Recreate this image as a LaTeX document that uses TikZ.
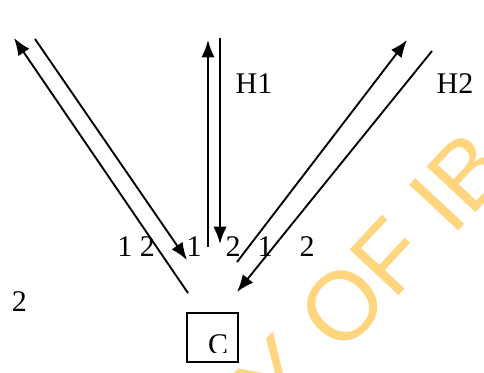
\documentclass[tikz,border=0pt]{standalone}
\usepackage{fontspec}
\setmainfont{Liberation Serif}
\newfontfamily\markfont{Liberation Sans}
\usetikzlibrary{arrows.meta}
\usepackage{xcolor}
\definecolor{markorange}{RGB}{255,213,128}

\begin{document}
\begin{tikzpicture}[
  x=0.75pt, y=-0.75pt,
  font=\fontsize{22.5}{27}\selectfont,
  lbl/.style={inner sep=0pt},
  box/.style={draw, line width=1.1pt, minimum width=38.25pt, minimum height=36.75pt, inner sep=0pt},
  arrow/.style={-{Latex[length=13pt, width=10pt]}, line width=1.4pt}
]
\useasboundingbox (0,0) rectangle (484,372);

% watermark
\begin{scope}
  \clip (0,0) rectangle (484,372);
  \node[anchor=base west, rotate=47, inner sep=0pt, text=markorange,
        font=\markfont\fontsize{73}{80}\selectfont] (mark) at (279,424) {Y OF IB};
\end{scope}

% end points of the paths
\coordinate (lup-s) at (188,293);
\coordinate (lup-e) at (14,38);
\coordinate (ldn-s) at (35,39);
\coordinate (ldn-e) at (187,260);
\coordinate (vup-s) at (208,247);
\coordinate (vup-e) at (208,40);
\coordinate (vdn-s) at (220,38);
\coordinate (vdn-e) at (220,244);
\coordinate (rup-s) at (237,262);
\coordinate (rup-e) at (407,40);
\coordinate (rdn-s) at (432,51);
\coordinate (rdn-e) at (237,292);

\draw[arrow] (lup-s) -- (lup-e);
\draw[arrow] (ldn-s) -- (ldn-e);
\draw[arrow] (vup-s) -- (vup-e);
\draw[arrow] (vdn-s) -- (vdn-e);
\draw[arrow] (rup-s) -- (rup-e);
\draw[arrow] (rdn-s) -- (rdn-e);

% labels
\node[lbl] (h1) at (254,84) {H1};
\node[lbl] (h2) at (455,84) {H2};
\node[lbl] (l12) at (136,247) {1 2};
\node[lbl] (v1) at (194,247) {1};
\node[lbl] (v2) at (233,247) {2};
\node[lbl] (r1) at (265,247) {1};
\node[lbl] (r2) at (307,247) {2};
\node[lbl] (side2) at (19.5,302) {2};

% the box C
\node[box] (cbox) at (212.5,337.5) {};
\begin{scope}
  \clip (187,313) rectangle (238,352);
  \node[lbl] (clbl) at (218,345) {C};
\end{scope}

\end{tikzpicture}
\end{document}
